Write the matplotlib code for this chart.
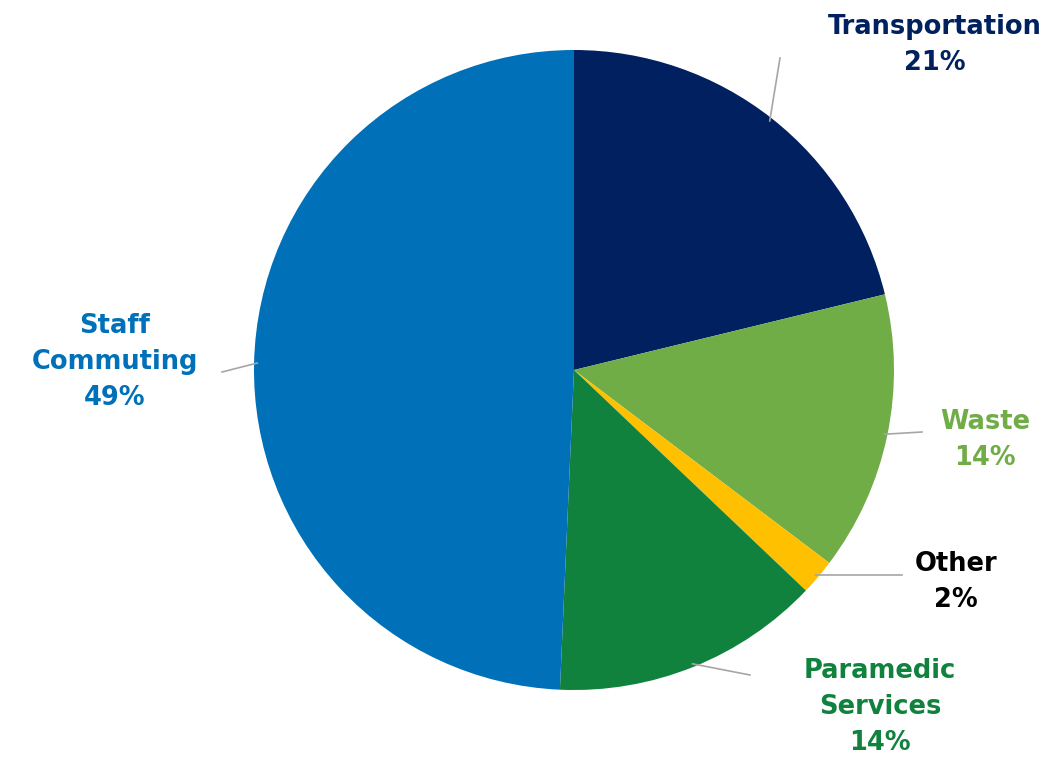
import numpy as np
import matplotlib.pyplot as plt

categories = ["Transportation", "Waste", "Other", "Paramedic\nServices", "Staff\nCommuting"]
values = [21.2, 14.1, 1.8, 13.6, 49.3]
labels_pct = ["21%", "14%", "2%", "14%", "49%"]
colors = ["#002060", "#70AD47", "#FFC000", "#10823E", "#0070B8"]
text_colors = ["#002060", "#70AD47", "#000000", "#10823E", "#0070B8"]

# label placement, in pixels of the picture (pie center = cx, cy)
cx, cy, r = 574, 370, 320
text_px = [(935, 45), (985, 440), (956, 582), (880, 707), (115, 362)]
elbow_px = [(780, 58), (922, 432), (902, 575), (750, 675), (222, 372)]

W, H = 1062, 761
fig = plt.figure(figsize=(W / 100, H / 100), dpi=100)
ax = fig.add_axes([(cx - r) / W, (H - cy - r) / H, 2 * r / W, 2 * r / H])

wedges, _ = ax.pie(values, colors=colors, startangle=90, counterclock=False,
                   radius=1, wedgeprops=dict(linewidth=0))
ax.set_xlim(-1, 1)
ax.set_ylim(-1, 1)
ax.set_aspect("equal")
ax.axis("off")

def to_data(p):
    return ((p[0] - cx) / r, (cy - p[1]) / r)

for i, w in enumerate(wedges):
    ang = np.deg2rad((w.theta1 + w.theta2) / 2)
    x0, y0 = np.cos(ang) * 0.99, np.sin(ang) * 0.99
    ex, ey = to_data(elbow_px[i])
    ax.plot([x0, ex], [y0, ey], color="#a6a6a6", lw=1.2, clip_on=False)
    tx, ty = to_data(text_px[i])
    ax.text(tx, ty, categories[i] + "\n" + labels_pct[i], ha="center", va="center",
            color=text_colors[i], fontsize=18.5, fontweight="bold",
            family=["DejaVu Sans"], linespacing=1.5, clip_on=False)

fig.savefig("out.png", dpi=100)
